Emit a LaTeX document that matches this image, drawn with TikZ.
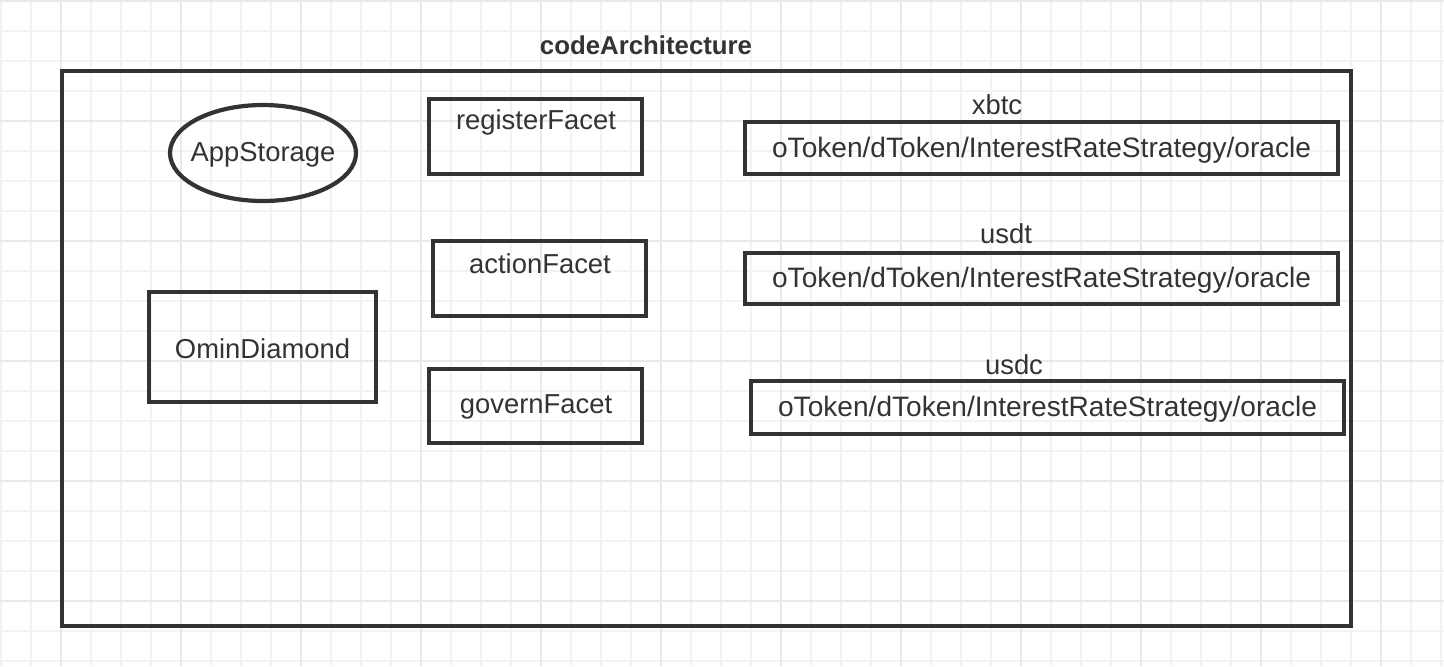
\documentclass[tikz,border=0pt]{standalone}
\usepackage{fontspec}
\setmainfont{Liberation Sans}
\usetikzlibrary{shapes.geometric,fit}
\definecolor{ink}{HTML}{333333}
\definecolor{gridminor}{HTML}{F3F3F3}
\definecolor{gridmajor}{HTML}{E9E9E9}
\begin{document}
\begin{tikzpicture}[x=0.5pt,y=-0.5pt,
  box/.style={draw=ink, line width=2.1pt, rectangle, inner sep=0pt},
  oval/.style={draw=ink, line width=2.1pt, ellipse, inner sep=0pt,
               minimum width=93pt, minimum height=48pt},
  txt/.style={text=ink, inner sep=0pt, yshift=-1pt, font=\fontsize{13.7pt}{16pt}\selectfont},
  tokens/.style={txt, font=\fontsize{14.05pt}{16pt}\selectfont},
  heading/.style={text=ink, inner sep=0pt, font=\fontsize{12.9pt}{15pt}\selectfont\bfseries},
]
\useasboundingbox (0,0) rectangle (1444,666);
\fill[white] (0,0) rectangle (1444,666);

% background grid paper
\foreach \x in {1,31,...,1441} \draw[gridminor, line width=0.9pt] (\x,0) -- (\x,666);
\foreach \y in {1,31,...,661} \draw[gridminor, line width=0.9pt] (0,\y) -- (1444,\y);
\foreach \x in {61,181,...,1441} \draw[gridmajor, line width=0.9pt] (\x,0) -- (\x,666);
\foreach \y in {1,121,...,601} \draw[gridmajor, line width=0.9pt] (0,\y) -- (1444,\y);

% title and outer frame
\node[heading] (title) at (646,45) {codeArchitecture};
\node[box, fit={(62,71) (1351,626)}] (frame) {};

% storage and diamond
\node[oval] (storage) at (263,153) {};
\node[txt] (storagetxt) at (storage.center) {AppStorage};
\node[box, fit={(149,292) (376,402)}] (diamond) {};
\node[txt] (diamondtxt) at (diamond.center) {OminDiamond};

% facets
\node[box, fit={(429,99) (642,174)}] (register) {};
\node[txt] (registertxt) at (536,120) {registerFacet};
\node[box, fit={(433,241) (646,316)}] (action) {};
\node[txt] (actiontxt) at (540,262) {actionFacet};
\node[box, fit={(429,369) (642,443)}] (govern) {};
\node[txt] (governtxt) at (536,405) {governFacet};

% per-asset token sets
\node[txt] (xbtc) at (997,103) {xbtc};
\node[box, fit={(745,122) (1338,174)}] (xbtcbox) {};
\node[tokens] (xbtctxt) at (xbtcbox.center) {oToken/dToken/InterestRateStrategy/oracle};

\node[txt] (usdt) at (1006,232) {usdt};
\node[box, fit={(745,253) (1338,304)}] (usdtbox) {};
\node[tokens] (usdttxt) at (usdtbox.center) {oToken/dToken/InterestRateStrategy/oracle};

\node[txt] (usdc) at (1014,363) {usdc};
\node[box, fit={(751,381) (1344,434)}] (usdcbox) {};
\node[tokens] (usdctxt) at (usdcbox.center) {oToken/dToken/InterestRateStrategy/oracle};
\end{tikzpicture}
\end{document}
